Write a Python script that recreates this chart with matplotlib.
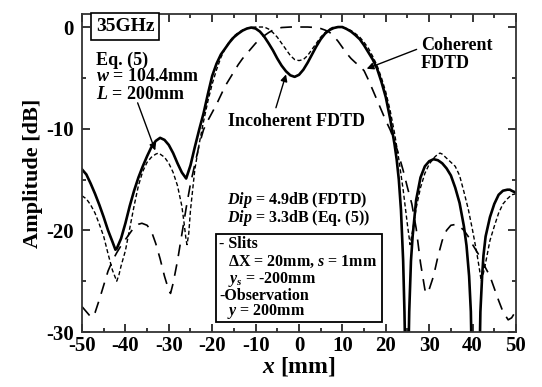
import numpy as np
import matplotlib
matplotlib.use("Agg")
import matplotlib.pyplot as plt
from matplotlib.patches import Rectangle

plt.rcParams['font.family'] = ['Liberation Serif', 'DejaVu Serif']
plt.rcParams['font.weight'] = 'bold'
plt.rcParams['mathtext.fontset'] = 'custom'
plt.rcParams['mathtext.rm'] = 'Liberation Serif:bold'
plt.rcParams['mathtext.it'] = 'Liberation Serif:italic:bold'
plt.rcParams['mathtext.bf'] = 'Liberation Serif:bold'
plt.rcParams['axes.unicode_minus'] = False

# Incoherent FDTD (solid)
x_inc = [-50, -49, -48, -47, -46, -45, -44, -43, -42.3, -42, -41, -40, -39, -38, -37, -36,
         -35, -34, -33, -32, -31, -30, -29, -28, -27, -26, -25, -24, -23, -22, -21, -20,
         -19, -18, -17, -16, -15, -14, -13, -12, -11, -10, -9, -8, -7, -6, -5, -4, -3, -2,
         -1, 0, 1, 2, 3, 4, 5, 6, 7, 8, 9, 10, 11, 12, 13, 14, 15, 16, 17, 18, 19, 20,
         21, 22, 22.5, 23, 23.5, 24, 24.3, 24.6, 25.1, 25.4, 25.8, 26.2, 27, 28, 29, 30,
         31, 32, 33, 34, 35, 36, 37, 38, 38.6, 39.2, 39.6, 39.9, 41.5, 41.8, 42.2, 42.5,
         43, 44, 45, 46, 47, 48, 48.6, 49, 50]
y_inc = [-14.0, -14.5, -15.4, -16.4, -17.5, -18.7, -20.0, -21.1, -21.9, -21.8, -20.8, -19.3,
         -17.6, -16.1, -14.8, -13.7, -12.7, -11.8, -11.2, -10.9, -11.1, -11.6, -12.4, -13.4,
         -14.3, -14.9, -13.6, -11.8, -10.1, -8.5, -6.6, -4.8, -3.6, -2.7, -2.1, -1.5, -1.0,
         -0.65, -0.35, -0.15, -0.05, -0.15, -0.45, -0.95, -1.6, -2.3, -3.1, -3.8, -4.35, -4.75,
         -4.9, -4.7, -4.2, -3.5, -2.7, -1.9, -1.2, -0.65, -0.3, -0.1, 0.0, 0.0, -0.2, -0.45,
         -0.8, -1.2, -1.8, -2.5, -3.2, -4.1, -5.4, -6.9, -9.0, -11.5, -13.0, -15.0, -18.0,
         -23.0, -28.0, -35.0, -35.0, -28.0, -23.0, -20.5, -17.0, -14.8, -13.7, -13.2, -13.0,
         -13.1, -13.4, -13.9, -14.6, -15.8, -17.3, -19.6, -21.5, -24.5, -28.0, -35.0, -35.0,
         -28.0, -24.5, -22.5, -20.6, -18.7, -17.4, -16.5, -16.1, -16.0, -16.0, -16.1, -16.3]

# Eq. (5) (short dashed)
x_eq = [-50, -49, -48, -47, -46, -45, -44, -43, -42, -41.5, -41, -40, -39, -38, -37, -36,
        -35, -34, -33, -32.4, -32, -31, -30, -29, -28, -27, -26.5, -26, -25.8, -25.4, -25,
        -24, -23, -22, -21, -20, -19, -18, -17, -16, -15, -14, -13, -12, -11, -10, -9, -8,
        -7, -6, -5, -4, -3, -2, -1, 0, 1, 2, 3, 4, 5, 6, 7, 8, 9, 10, 11, 12, 13, 14, 15,
        16, 17, 18, 19, 20, 21, 22, 23, 24, 25, 25.6, 26.2, 27, 28, 29, 30, 31, 32, 32.5, 33,
        34, 35, 36, 37, 38, 39, 40, 41, 41.5, 42, 42.5, 43, 44, 45, 46, 47, 48, 49, 50]
y_eq = [-16.6, -16.9, -17.5, -18.3, -19.4, -20.6, -22.3, -23.9, -25.0, -24.4, -23.5, -22.0,
        -19.8, -17.6, -15.6, -14.2, -13.3, -12.8, -12.5, -12.4, -12.5, -12.8, -13.4, -14.3,
        -15.6, -17.6, -19.2, -21.0, -21.4, -20.3, -18.0, -14.0, -11.5, -9.3, -7.3, -5.6,
        -4.2, -3.0, -2.1, -1.4, -0.9, -0.55, -0.3, -0.15, -0.05, 0.0, 0.0, 0.0, -0.2, -0.55,
        -1.0, -1.6, -2.2, -2.8, -3.2, -3.3, -3.2, -2.8, -2.2, -1.6, -1.0, -0.55, -0.2, 0.0,
        0.0, -0.05, -0.15, -0.35, -0.65, -1.0, -1.5, -2.1, -2.9, -3.8, -5.0, -6.4, -8.2,
        -10.4, -13.0, -16.0, -19.5, -21.4, -20.0, -17.8, -15.8, -14.4, -13.5, -12.9, -12.5,
        -12.4, -12.5, -12.9, -13.3, -13.7, -14.6, -16.2, -17.9, -20.0, -22.3, -23.6, -25.0,
        -24.2, -23.2, -21.0, -19.6, -18.3, -17.4, -16.9, -16.5, -16.4]

# Coherent FDTD (long dashed)
x_coh = [-50, -49, -48, -47.5, -47, -46, -45, -44, -43, -42, -41, -40, -39, -38, -37, -36.2,
         -35, -34, -33, -32, -31, -30, -29.6, -29, -28, -27, -26, -25, -24, -23, -22, -21,
         -20, -19, -18, -17, -16, -15, -14, -13, -12, -11, -10, -9, -8, -7, -6, -5, -4, -2,
         0, 2, 4, 5, 6, 7, 8, 9, 10, 11, 12, 13, 14, 15, 16, 17, 18, 19, 20, 21, 22, 23, 24,
         25, 26, 27, 28, 29, 29.3, 30, 31, 32, 33, 34, 35, 36.3, 37, 38, 39, 40, 41, 42, 43,
         44, 45, 46, 47, 48.2, 49, 50]
y_coh = [-27.5, -28.0, -28.5, -28.5, -28.1, -26.8, -25.4, -24.0, -23.0, -22.2, -21.5, -20.9,
         -20.3, -19.7, -19.4, -19.3, -19.5, -20.1, -21.3, -22.8, -24.5, -25.9, -26.2, -25.2,
         -23.0, -20.4, -17.8, -15.4, -13.5, -11.6, -10.1, -9.2, -8.4, -7.6, -6.7, -5.8, -5.1,
         -4.4, -3.7, -3.1, -2.6, -2.1, -1.6, -1.2, -0.85, -0.55, -0.3, -0.15, -0.05, 0.0,
         0.0, 0.0, -0.05, -0.15, -0.3, -0.5, -0.9, -1.4, -2.0, -2.6, -3.1, -3.5, -3.85, -4.3,
         -5.2, -6.2, -7.2, -8.2, -9.2, -10.1, -11.2, -12.6, -14.1, -15.8, -17.4, -19.8,
         -23.2, -25.8, -26.2, -25.8, -24.5, -22.6, -21.0, -20.0, -19.5, -19.4, -19.6, -20.0,
         -20.6, -21.4, -22.1, -22.8, -23.7, -24.5, -25.7, -26.9, -28.0, -28.8, -28.6, -27.9]

fig = plt.figure(figsize=(5.42, 3.87), dpi=100)
ax = fig.add_axes([0.1513, 0.142, 0.8007, 0.8218])

ax.plot(x_coh, y_coh, color='k', lw=1.2, dashes=(7, 5))
ax.plot(x_eq, y_eq, color='k', lw=1.0, dashes=(3, 1.8))
ax.plot(x_inc, y_inc, color='k', lw=1.9)

ax.set_xlim(-50, 50)
ax.set_ylim(-30, 1.28)
ax.set_xticks(np.arange(-50, 51, 10))
ax.set_xticks(np.arange(-45, 50, 10), minor=True)
ax.set_yticks([-30, -20, -10, 0])
ax.set_yticks([-25, -15, -5], minor=True)
ax.tick_params(which='both', direction='in', top=True, right=True, labelsize=15, width=1.1)
ax.tick_params(which='major', length=6)
ax.tick_params(which='minor', length=3)
ax.tick_params(axis='y', which='major', pad=6)
ax.tick_params(axis='x', which='major', pad=3)
for lab in ax.get_xticklabels() + ax.get_yticklabels():
    lab.set_fontweight('bold')
for sp in ax.spines.values():
    sp.set_linewidth(1.3)
    sp.set_color('#333333')

ax.set_xlabel(r'$x$ [mm]', fontsize=17, fontweight='bold', labelpad=-1)
ax.set_ylabel('Amplitude [dB]', fontsize=16, fontweight='bold', labelpad=2)

fs = 11.5
ax.text(-46.8, 0.05, '35GHz', fontsize=14, ha='left', va='center',
        bbox=dict(boxstyle='square,pad=0.25', fc='white', ec='k', lw=1.2))
ax.text(-46.8, -3.24, 'Eq. (5)', fontsize=13, ha='left', va='center')
ax.text(-46.8, -4.89, r'$w$ = 104.4mm', fontsize=13, ha='left', va='center')
ax.text(-46.8, -6.59, r'$L$ = 200mm', fontsize=13, ha='left', va='center')
ax.annotate('', xy=(-32.9, -12.4), xytext=(-37.4, -7.2),
            arrowprops=dict(arrowstyle='-|>', color='k', lw=1.0, mutation_scale=10))

ax.text(-16.4, -9.31, 'Incoherent FDTD', fontsize=13, ha='left', va='center')
ax.annotate('', xy=(-2.8, -4.4), xytext=(-5.5, -8.2),
            arrowprops=dict(arrowstyle='-|>', color='k', lw=1.0, mutation_scale=10))

ax.text(28.1, -1.77, 'Coherent', fontsize=13, ha='left', va='center')
ax.text(28.1, -3.54, 'FDTD', fontsize=13, ha='left', va='center')
ax.annotate('', xy=(15.0, -4.2), xytext=(27.7, -2.1),
            arrowprops=dict(arrowstyle='-|>', color='k', lw=1.0, mutation_scale=10))

ax.text(-16.7, -17.0, r'$Dip$ = 4.9dB (FDTD)', fontsize=fs, ha='left', va='center')
ax.text(-16.7, -18.8, r'$Dip$ = 3.3dB (Eq. (5))', fontsize=fs, ha='left', va='center')

ax.add_patch(Rectangle((-19.1, -28.98), 38.2, 8.63, fill=False, ec='k', lw=1.3, zorder=3))
ax.text(-18.4, -21.34, '- Slits', fontsize=fs, ha='left', va='center')
ax.text(-16.3, -23.14, r'ΔX = 20mm, $s$ = 1mm', fontsize=fs, ha='left', va='center')
ax.text(-16.3, -24.88, r'$y_s$ = -200mm', fontsize=fs, ha='left', va='center')
ax.text(-18.4, -26.45, '-Observation', fontsize=fs, ha='left', va='center')
ax.text(-16.6, -28.0, r'$y$ = 200mm', fontsize=fs, ha='left', va='center')

fig.savefig('out.png', dpi=100)
